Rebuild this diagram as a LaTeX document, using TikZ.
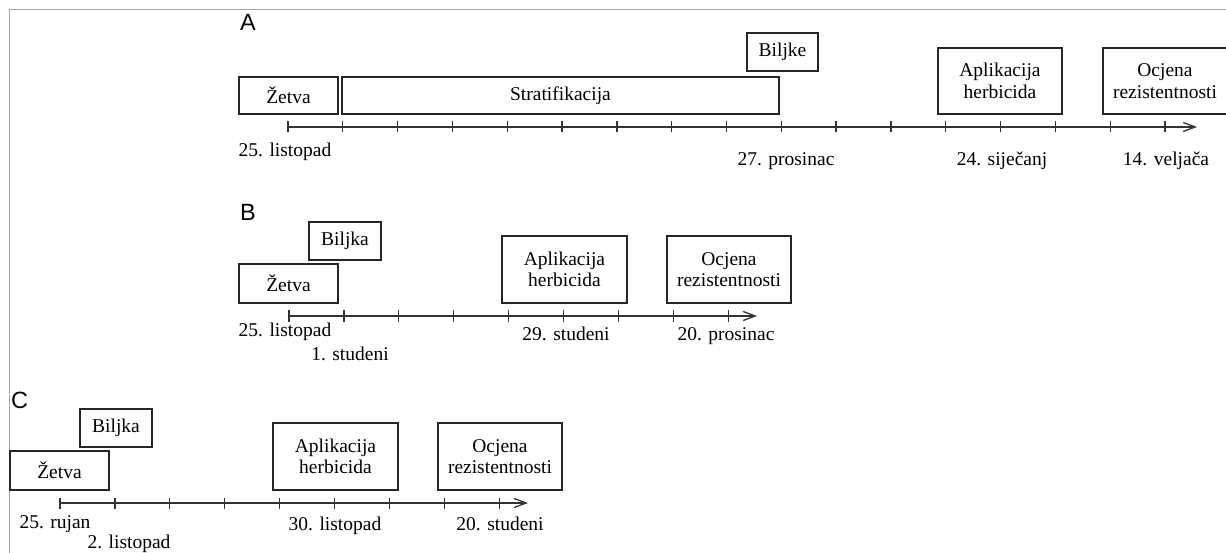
\documentclass[tikz,border=0pt]{standalone}
\usepackage{fontspec}
\setmainfont{Liberation Serif}
\newfontfamily\lettersans{Liberation Sans}
\usetikzlibrary{arrows.meta}
\tikzset{
 box/.style={draw=black!85, line width=1.4pt, inner sep=0pt, align=center, font=\fontsize{19.5}{21.5}\selectfont, text=black},
 lbl/.style={inner sep=0pt, anchor=base, font=\fontsize{19.5}{21.5}\selectfont},
 panel/.style={inner sep=0pt, anchor=base west, font=\lettersans\fontsize{23.5}{24}\selectfont},
 axisline/.style={line width=1.4pt, draw=black!80, -{Straight Barb[length=12pt,width=9pt,line width=1.3pt]}},
 tickmark/.style={line width=1.3pt, draw=black!80},
 frameline/.style={draw=black!35, line width=1pt},
}
\newcommand{\bx}[6]{\node[box, minimum width={(#4-#2)*1pt}, minimum height={(#5-#3)*1pt}] (#1) at ({(#2+#4)/2},{(#3+#5)/2}) {#6};}
\begin{document}
\begin{tikzpicture}[x=1pt,y=-1pt]
\useasboundingbox (0,0) rectangle (1226,553);
% frame
\draw[frameline] (9,553) -- (9,10) -- (1226,10);
% ---------- A ----------
\node[panel] (pA) at (240,31) {A};
\bx{aZ}{239}{77}{338}{114}{Žetva}
\bx{aS}{342}{77}{779}{114}{Stratifikacija}
\bx{aB}{747}{33}{818}{71}{Biljke}
\bx{aA}{938}{48}{1062}{114}{Aplikacija\\herbicida}
\bx{aO}{1103}{48}{1227}{114}{Ocjena\\rezistentnosti}
\coordinate (a0) at (288,127);
\coordinate (a1) at (1197,127);
\draw[axisline] (a0) -- (a1);
\foreach \i in {0,...,16} \draw[tickmark] ({288+\i*54.81},121.5) -- ({288+\i*54.81},132.5);
\node[lbl] (aL1) at (285,156.5) {25. listopad};
\node[lbl] (aL2) at (786,166) {27. prosinac};
\node[lbl] (aL3) at (1002,166) {24. siječanj};
\node[lbl] (aL4) at (1166,166) {14. veljača};
% ---------- B ----------
\node[panel] (pB) at (240,221) {B};
\bx{bB}{309}{222}{381}{260}{Biljka}
\bx{bZ}{239}{264}{338}{303}{Žetva}
\bx{bA}{502}{236}{627}{303}{Aplikacija\\herbicida}
\bx{bO}{667}{236}{791}{303}{Ocjena\\rezistentnosti}
\coordinate (b0) at (289,316);
\coordinate (b1) at (757,316);
\draw[axisline] (b0) -- (b1);
\foreach \i in {0,...,8} \draw[tickmark] ({289+\i*54.9},310.5) -- ({289+\i*54.9},321.5);
\node[lbl] (bL1) at (285,336.5) {25. listopad};
\node[lbl] (bL2) at (350,360.5) {1. studeni};
\node[lbl] (bL3) at (566,340) {29. studeni};
\node[lbl] (bL4) at (726,340) {20. prosinac};
% ---------- C ----------
\node[panel] (pC) at (11,408) {C};
\bx{cB}{80}{409}{152}{447}{Biljka}
\bx{cZ}{10}{451}{109}{490}{Žetva}
\bx{cA}{273}{423}{398}{490}{Aplikacija\\herbicida}
\bx{cO}{438}{423}{562}{490}{Ocjena\\rezistentnosti}
\coordinate (c0) at (60,503);
\coordinate (c1) at (528,503);
\draw[axisline] (c0) -- (c1);
\foreach \i in {0,...,8} \draw[tickmark] ({60+\i*54.9},497.5) -- ({60+\i*54.9},508.5);
\node[lbl] (cL1) at (55,528) {25. rujan};
\node[lbl] (cL2) at (129,548) {2. listopad};
\node[lbl] (cL3) at (335,530) {30. listopad};
\node[lbl] (cL4) at (500,530) {20. studeni};
\end{tikzpicture}
\end{document}
